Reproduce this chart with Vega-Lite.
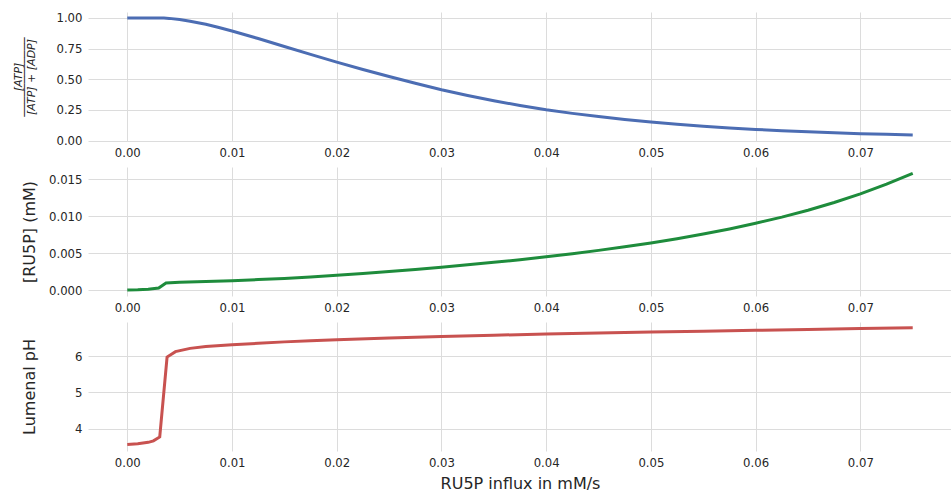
{
  "$schema": "https://vega.github.io/schema/vega-lite/v6.json",
  "padding": {"left": 12, "top": 12, "right": 0, "bottom": 0},
  "background": "white",
  "bounds": "flush",
  "spacing": 26,
  "config": {
    "font": "DejaVu Sans",
    "view": {"stroke": null},
    "axis": {
      "domain": false,
      "ticks": false,
      "grid": true,
      "gridColor": "#dcdcdc",
      "gridWidth": 1,
      "labelFont": "DejaVu Sans",
      "labelFontSize": 11.7,
      "labelColor": "#262626",
      "labelPadding": 6,
      "titleFont": "DejaVu Sans",
      "titleFontSize": 16,
      "titleFontWeight": "normal",
      "titleColor": "#262626"
    }
  },
  "datasets": {
    "atp": [
      {"influx": 0.0, "atp_fraction": 1.0},
      {"influx": 0.001, "atp_fraction": 1.0},
      {"influx": 0.002, "atp_fraction": 1.0},
      {"influx": 0.003, "atp_fraction": 1.0},
      {"influx": 0.0035, "atp_fraction": 0.999},
      {"influx": 0.004, "atp_fraction": 0.996},
      {"influx": 0.005, "atp_fraction": 0.986},
      {"influx": 0.006, "atp_fraction": 0.973},
      {"influx": 0.0075, "atp_fraction": 0.948},
      {"influx": 0.00875, "atp_fraction": 0.922},
      {"influx": 0.01, "atp_fraction": 0.893},
      {"influx": 0.0125, "atp_fraction": 0.832},
      {"influx": 0.015, "atp_fraction": 0.767},
      {"influx": 0.0175, "atp_fraction": 0.703},
      {"influx": 0.02, "atp_fraction": 0.64},
      {"influx": 0.0225, "atp_fraction": 0.58},
      {"influx": 0.025, "atp_fraction": 0.522},
      {"influx": 0.0275, "atp_fraction": 0.467},
      {"influx": 0.03, "atp_fraction": 0.415},
      {"influx": 0.0325, "atp_fraction": 0.368},
      {"influx": 0.035, "atp_fraction": 0.325},
      {"influx": 0.0375, "atp_fraction": 0.286},
      {"influx": 0.04, "atp_fraction": 0.251},
      {"influx": 0.0425, "atp_fraction": 0.222},
      {"influx": 0.045, "atp_fraction": 0.196},
      {"influx": 0.0475, "atp_fraction": 0.172},
      {"influx": 0.05, "atp_fraction": 0.151},
      {"influx": 0.0525, "atp_fraction": 0.133},
      {"influx": 0.055, "atp_fraction": 0.117},
      {"influx": 0.0575, "atp_fraction": 0.103},
      {"influx": 0.06, "atp_fraction": 0.091},
      {"influx": 0.0625, "atp_fraction": 0.081},
      {"influx": 0.065, "atp_fraction": 0.072},
      {"influx": 0.0675, "atp_fraction": 0.064},
      {"influx": 0.07, "atp_fraction": 0.057},
      {"influx": 0.0725, "atp_fraction": 0.051},
      {"influx": 0.075, "atp_fraction": 0.046}
    ],
    "ru5p": [
      {"influx": 0.0, "ru5p": 0.0},
      {"influx": 0.001, "ru5p": 0.00003},
      {"influx": 0.002, "ru5p": 0.0001},
      {"influx": 0.003, "ru5p": 0.00028},
      {"influx": 0.0037, "ru5p": 0.00097},
      {"influx": 0.005, "ru5p": 0.00105},
      {"influx": 0.0075, "ru5p": 0.00115},
      {"influx": 0.01, "ru5p": 0.00128},
      {"influx": 0.0125, "ru5p": 0.00142},
      {"influx": 0.015, "ru5p": 0.00158},
      {"influx": 0.0175, "ru5p": 0.00178},
      {"influx": 0.02, "ru5p": 0.002},
      {"influx": 0.0225, "ru5p": 0.00225},
      {"influx": 0.025, "ru5p": 0.00252},
      {"influx": 0.0275, "ru5p": 0.0028},
      {"influx": 0.03, "ru5p": 0.0031},
      {"influx": 0.0325, "ru5p": 0.00342},
      {"influx": 0.035, "ru5p": 0.00376},
      {"influx": 0.0375, "ru5p": 0.00412},
      {"influx": 0.04, "ru5p": 0.0045},
      {"influx": 0.0425, "ru5p": 0.00493},
      {"influx": 0.045, "ru5p": 0.00538},
      {"influx": 0.0475, "ru5p": 0.00586},
      {"influx": 0.05, "ru5p": 0.00638},
      {"influx": 0.0525, "ru5p": 0.00696},
      {"influx": 0.055, "ru5p": 0.00759},
      {"influx": 0.0575, "ru5p": 0.00828},
      {"influx": 0.06, "ru5p": 0.00905},
      {"influx": 0.0625, "ru5p": 0.00988},
      {"influx": 0.065, "ru5p": 0.01082},
      {"influx": 0.0675, "ru5p": 0.01187},
      {"influx": 0.07, "ru5p": 0.01303},
      {"influx": 0.0725, "ru5p": 0.01434},
      {"influx": 0.075, "ru5p": 0.0158}
    ],
    "ph": [
      {"influx": 0.0, "ph": 3.56},
      {"influx": 0.001, "ph": 3.58},
      {"influx": 0.002, "ph": 3.62},
      {"influx": 0.0025, "ph": 3.66},
      {"influx": 0.0031, "ph": 3.77},
      {"influx": 0.0038, "ph": 5.98},
      {"influx": 0.0046, "ph": 6.13},
      {"influx": 0.006, "ph": 6.22},
      {"influx": 0.0075, "ph": 6.27},
      {"influx": 0.01, "ph": 6.32},
      {"influx": 0.0125, "ph": 6.36},
      {"influx": 0.015, "ph": 6.4},
      {"influx": 0.0175, "ph": 6.43},
      {"influx": 0.02, "ph": 6.46},
      {"influx": 0.025, "ph": 6.51},
      {"influx": 0.03, "ph": 6.55},
      {"influx": 0.035, "ph": 6.585},
      {"influx": 0.04, "ph": 6.615},
      {"influx": 0.045, "ph": 6.645},
      {"influx": 0.05, "ph": 6.67},
      {"influx": 0.055, "ph": 6.695},
      {"influx": 0.06, "ph": 6.72},
      {"influx": 0.065, "ph": 6.745},
      {"influx": 0.07, "ph": 6.77},
      {"influx": 0.075, "ph": 6.79}
    ]
  },
  "vconcat": [
    {
      "width": 864,
      "height": 129,
      "data": {"name": "atp"},
      "mark": {"type": "line", "color": "#4c6db3", "strokeWidth": 3, "clip": true},
      "encoding": {
        "x": {"field": "influx", "type": "quantitative",
              "scale": {"domain": [-0.00375, 0.07875], "nice": false, "zero": false},
              "axis": {"title": null, "values": [0, 0.01, 0.02, 0.03, 0.04, 0.05, 0.06, 0.07], "format": ".2f"}},
        "y": {"field": "atp_fraction", "type": "quantitative",
              "scale": {"domain": [-0.003, 1.048], "nice": false, "zero": false},
              "axis": {"title": ["[ATP]", "────────────", "[ATP] + [ADP]"],
                       "titleFontSize": 11, "titleFontStyle": "italic", "titleLineHeight": 6.5,
                       "titleX": -67, "titleBaseline": "alphabetic",
                       "values": [0, 0.25, 0.5, 0.75, 1.0], "format": ".2f"}}
      }
    },
    {
      "width": 864,
      "height": 129,
      "data": {"name": "ru5p"},
      "mark": {"type": "line", "color": "#1e8c3c", "strokeWidth": 3, "clip": true},
      "encoding": {
        "x": {"field": "influx", "type": "quantitative",
              "scale": {"domain": [-0.00375, 0.07875], "nice": false, "zero": false},
              "axis": {"title": null, "values": [0, 0.01, 0.02, 0.03, 0.04, 0.05, 0.06, 0.07], "format": ".2f"}},
        "y": {"field": "ru5p", "type": "quantitative",
              "scale": {"domain": [-0.0008, 0.01667], "nice": false, "zero": false},
              "axis": {"title": "[RU5P] (mM)", "titleX": -54, "titleBaseline": "alphabetic",
                       "values": [0, 0.005, 0.01, 0.015], "format": ".3f"}}
      }
    },
    {
      "width": 864,
      "height": 129,
      "data": {"name": "ph"},
      "mark": {"type": "line", "color": "#c85250", "strokeWidth": 3, "clip": true},
      "encoding": {
        "x": {"field": "influx", "type": "quantitative",
              "scale": {"domain": [-0.00375, 0.07875], "nice": false, "zero": false},
              "axis": {"title": "RU5P influx in mM/s", "titleY": 37, "titleBaseline": "alphabetic",
                       "values": [0, 0.01, 0.02, 0.03, 0.04, 0.05, 0.06, 0.07], "format": ".2f"}},
        "y": {"field": "ph", "type": "quantitative",
              "scale": {"domain": [3.38, 6.95], "nice": false, "zero": false},
              "axis": {"title": "Lumenal pH", "titleX": -54, "titleBaseline": "alphabetic",
                       "values": [4, 5, 6], "format": "d"}}
      }
    }
  ]
}
